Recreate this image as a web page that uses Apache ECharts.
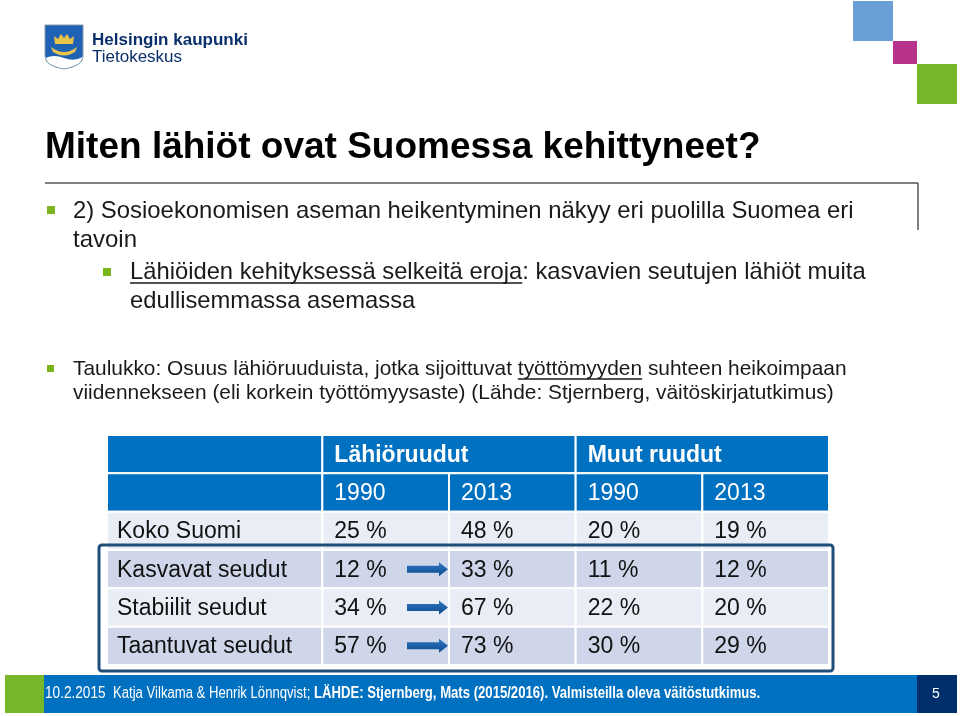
<!DOCTYPE html>
<html>
<head>
<meta charset="utf-8">
<script src="https://cdn.jsdelivr.net/npm/echarts@6/dist/echarts.min.js"></script>
<style>
html, body { margin: 0; padding: 0; background: #fff; }
#slide { width: 960px; height: 716px; }
</style>
</head>
<body>
<div id="slide"></div>
<script>
// table content
const groups = ['Lähiöruudut', 'Muut ruudut'];
const years = ['1990', '2013', '1990', '2013'];
const regions = ['Koko Suomi', 'Kasvavat seudut', 'Stabiilit seudut', 'Taantuvat seudut'];
const lahio1990 = [25, 12, 34, 57];
const lahio2013 = [48, 33, 67, 73];
const muut1990 = [20, 11, 22, 30];
const muut2013 = [19, 12, 20, 29];
const arrowRows = [false, true, true, true];

const FONT = "'Liberation Sans', Arial, sans-serif";
const BLUE = '#0070c0';
const LABEL_SPAN = 1.7; // first column is wider than the value columns

const colX0 = i => (i === 0 ? 0 : LABEL_SPAN + i - 1);
const colX1 = i => (i === 0 ? LABEL_SPAN : LABEL_SPAN + i);

// build table cells
const cells = [];
cells.push({ x0: 0, x1: colX1(0), y0: 0, y1: 1, text: '', kind: 'head' });
groups.forEach((g, i) => {
  cells.push({ x0: colX0(1 + i * 2), x1: colX1(2 + i * 2), y0: 0, y1: 1, text: g, kind: 'headBold' });
});
cells.push({ x0: 0, x1: colX1(0), y0: 1, y1: 2, text: '', kind: 'head' });
years.forEach((y, i) => {
  cells.push({ x0: colX0(i + 1), x1: colX1(i + 1), y0: 1, y1: 2, text: y, kind: 'head' });
});
regions.forEach((r, ri) => {
  const row = ri + 2;
  const kind = ri % 2 === 0 ? 'light' : 'dark';
  const vals = [lahio1990[ri], lahio2013[ri], muut1990[ri], muut2013[ri]];
  cells.push({ x0: 0, x1: colX1(0), y0: row, y1: row + 1, text: r, kind, label: true });
  vals.forEach((v, ci) => {
    cells.push({
      x0: colX0(ci + 1), x1: colX1(ci + 1), y0: row, y1: row + 1,
      text: v + ' %', kind, arrow: ci === 1 && arrowRows[ri]
    });
  });
});

const fills = { head: BLUE, headBold: BLUE, light: '#e9edf5', dark: '#cfd6ea' };

function renderCell(params, api) {
  const c = cells[params.dataIndex];
  const p0 = api.coord([c.x0, c.y0]);
  const p1 = api.coord([c.x1, c.y1]);
  const cy = (p0[1] + p1[1]) / 2;
  const head = c.kind === 'head' || c.kind === 'headBold';
  const children = [{
    type: 'rect',
    shape: { x: p0[0], y: p0[1], width: p1[0] - p0[0], height: p1[1] - p0[1] },
    style: { fill: fills[c.kind], stroke: '#fff', lineWidth: 2 }
  }];
  if (c.text) {
    children.push({
      type: 'text',
      x: p0[0] + (c.label ? 10 : 12),
      y: cy + 1,
      style: {
        text: c.text,
        font: (c.kind === 'headBold' ? 'bold ' : '') + '23px ' + FONT,
        fill: head ? '#fff' : '#111',
        align: 'left',
        verticalAlign: 'middle'
      }
    });
  }
  if (c.arrow) {
    const e = p0[0] - 1, s = e - 41;
    children.push({
      type: 'polygon',
      shape: { points: [[s, cy - 3.5], [e - 9, cy - 3.5], [e - 9, cy - 7], [e, cy], [e - 9, cy + 7], [e - 9, cy + 3.5], [s, cy + 3.5]] },
      style: {
        fill: new echarts.graphic.LinearGradient(0, 0, 0, 1, [
          { offset: 0, color: '#2f78c4' },
          { offset: 1, color: '#0d4a8c' }
        ])
      }
    });
  }
  return { type: 'group', children };
}

// city logo, drawn by a custom series with no coordinate system
function renderLogo() {
  return {
    type: 'group',
    children: [
      { type: 'path', shape: { pathData: 'M45 25 H83 V56 Q83 66 64 69 Q45 66 45 56 Z' }, style: { fill: '#1f62b3', stroke: '#8a96a8', lineWidth: 1 } },
      { type: 'path', shape: { pathData: 'M45.5 58 Q54 54 64 58 Q74 62 82.5 57 L82.5 56 Q82.5 65.5 64 68.5 Q45.5 65.5 45.5 56 Z' }, style: { fill: '#ffffff' } },
      { type: 'path', shape: { pathData: 'M55 44 L54 36 L58 39 L61 34 L64 38 L67 34 L70 39 L74 36 L73 44 Z' }, style: { fill: '#e9c44a' } },
      { type: 'path', shape: { pathData: 'M51 47 Q64 57 77 47 L75 52 Q64 59 53 52 Z' }, style: { fill: '#e9c44a' } }
    ]
  };
}

// text helpers
const measureCtx = document.createElement('canvas').getContext('2d');
function textWidth(str, font) {
  measureCtx.font = font;
  return measureCtx.measureText(str).width;
}

// one line of text made of segments; sx squeezes the glyphs horizontally
function textLine(segments, x, y, font, fill, underlineOffset, sx) {
  sx = sx || 1;
  const els = [];
  let cx = x;
  segments.forEach(seg => {
    const f = (seg.bold ? 'bold ' : '') + font;
    els.push({ type: 'text', x: cx, y, scaleX: sx, style: { text: seg.t, font: f, fill, align: 'left', verticalAlign: 'middle' } });
    const w = textWidth(seg.t, f) * sx;
    if (seg.u) {
      els.push({ type: 'line', shape: { x1: cx, y1: y + underlineOffset, x2: cx + w, y2: y + underlineOffset }, style: { stroke: fill, lineWidth: 1.5 } });
    }
    cx += w;
  });
  return els;
}

const bulletGreen = '#7ab51d';
const bodyColor = '#1a1a1a';

const graphics = [
  // corner squares
  { type: 'rect', shape: { x: 853, y: 1, width: 40, height: 40 }, style: { fill: '#6a9fd6' } },
  { type: 'rect', shape: { x: 893, y: 41, width: 24, height: 23 }, style: { fill: '#b8338c' } },
  { type: 'rect', shape: { x: 917, y: 64, width: 40, height: 40 }, style: { fill: '#76b82a' } },
  { type: 'text', x: 92, y: 40, style: { text: 'Helsingin kaupunki', font: 'bold 17px ' + FONT, fill: '#0b2f6b', verticalAlign: 'middle' } },
  { type: 'text', x: 92, y: 57, style: { text: 'Tietokeskus', font: '17px ' + FONT, fill: '#0b2f6b', verticalAlign: 'middle' } },
  // title
  { type: 'text', x: 45, y: 148, style: { text: 'Miten lähiöt ovat Suomessa kehittyneet?', font: 'bold 37px ' + FONT, fill: '#000', verticalAlign: 'middle' } },
  { type: 'line', shape: { x1: 45, y1: 183, x2: 918, y2: 183 }, style: { stroke: '#555', lineWidth: 1.5 } },
  { type: 'line', shape: { x1: 918, y1: 183, x2: 918, y2: 230 }, style: { stroke: '#555', lineWidth: 1.5 } },
  // bullets
  { type: 'rect', shape: { x: 47, y: 206, width: 8, height: 8 }, style: { fill: bulletGreen } },
  { type: 'rect', shape: { x: 103, y: 268, width: 8, height: 8 }, style: { fill: bulletGreen } },
  { type: 'rect', shape: { x: 47, y: 365, width: 7, height: 7 }, style: { fill: bulletGreen } }
];

graphics.push(...textLine([{ t: '2) Sosioekonomisen aseman heikentyminen näkyy eri puolilla Suomea eri' }], 73, 211, '24px ' + FONT, bodyColor, 11, 0.995));
graphics.push(...textLine([{ t: 'tavoin' }], 73, 240, '24px ' + FONT, bodyColor, 11));
graphics.push(...textLine([{ t: 'Lähiöiden kehityksessä selkeitä eroja', u: true }, { t: ': kasvavien seutujen lähiöt muita' }], 130, 272, '24px ' + FONT, bodyColor, 11, 0.99));
graphics.push(...textLine([{ t: 'edullisemmassa asemassa' }], 130, 301, '24px ' + FONT, bodyColor, 11, 0.99));
graphics.push(...textLine([{ t: 'Taulukko: Osuus lähiöruuduista, jotka sijoittuvat ' }, { t: 'työttömyyden', u: true }, { t: ' suhteen heikoimpaan' }], 73, 369, '21px ' + FONT, bodyColor, 10, 0.995));
graphics.push(...textLine([{ t: 'viidennekseen (eli korkein työttömyysaste) (Lähde: Stjernberg, väitöskirjatutkimus)' }], 73, 393, '21px ' + FONT, bodyColor, 10, 0.995));

// footer
graphics.push(
  { type: 'rect', shape: { x: 5, y: 675, width: 39, height: 38 }, style: { fill: '#76b82a' } },
  { type: 'rect', shape: { x: 44, y: 675, width: 873, height: 38 }, style: { fill: BLUE } },
  { type: 'rect', shape: { x: 917, y: 675, width: 40, height: 38 }, style: { fill: '#002f6c' } },
  { type: 'text', x: 936, y: 694, style: { text: '5', font: '14px ' + FONT, fill: '#fff', align: 'center', verticalAlign: 'middle' } }
);
graphics.push(...textLine([{ t: '10.2.2015' }], 45, 694, '16px ' + FONT, '#fff', 0, 0.85));
graphics.push(...textLine([
  { t: 'Katja Vilkama & Henrik Lönnqvist; ' },
  { t: 'LÄHDE: Stjernberg, Mats (2015/2016). Valmisteilla oleva väitöstutkimus.', bold: true }
], 113, 694, '16px ' + FONT, '#fff', 0, 0.82));

const chart = echarts.init(document.getElementById('slide'));
chart.setOption({
  animation: false,
  backgroundColor: '#fff',
  grid: { left: 107, top: 435, width: 722, height: 230 },
  xAxis: { type: 'value', min: 0, max: LABEL_SPAN + 4, show: false },
  yAxis: { type: 'value', min: 0, max: 6, inverse: true, show: false },
  series: [{
    type: 'custom',
    renderItem: renderCell,
    data: cells.map(c => [c.x0, c.x1, c.y0, c.y1]),
    encode: { x: [0, 1], y: [2, 3] },
    z: 2
  }, {
    type: 'custom',
    coordinateSystem: 'none',
    renderItem: renderLogo,
    data: [[0]],
    silent: true
  }],
  graphic: graphics
});

// frame round the regional rows
const tl = chart.convertToPixel({ gridIndex: 0 }, [0, 3]);
const br = chart.convertToPixel({ gridIndex: 0 }, [LABEL_SPAN + 4, 6]);
chart.setOption({
  graphic: graphics.concat([{
    type: 'rect',
    shape: { x: tl[0] - 8, y: tl[1] - 5, width: br[0] - tl[0] + 12, height: br[1] - tl[1] + 11, r: 3 },
    style: { fill: 'none', stroke: '#1f4e79', lineWidth: 3 },
    z: 10
  }])
});
</script>
</body>
</html>
